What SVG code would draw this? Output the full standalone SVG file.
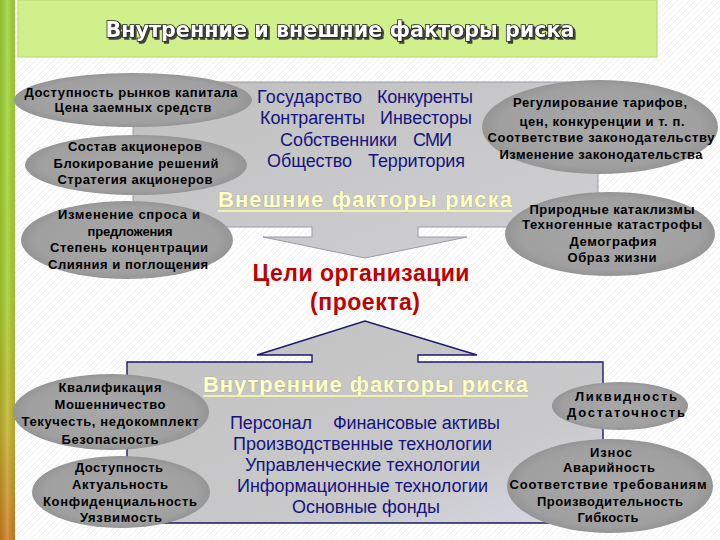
<svg xmlns="http://www.w3.org/2000/svg" width="720" height="540" viewBox="0 0 720 540">
<defs>
<pattern id="hatch" width="6" height="6" patternUnits="userSpaceOnUse">
<rect width="6" height="6" fill="#ffffff"/>
<path d="M-1,7 L7,-1" stroke="#ebebeb" stroke-width="0.8"/>
</pattern>
<linearGradient id="stripe" x1="0" y1="0" x2="0" y2="1">
<stop offset="0" stop-color="#9fd43a"/>
<stop offset="0.55" stop-color="#a6cf2e"/>
<stop offset="0.8" stop-color="#c4b22c"/>
<stop offset="1" stop-color="#cf7e22"/>
</linearGradient>
<linearGradient id="stripeH" x1="0" y1="0" x2="1" y2="0">
<stop offset="0" stop-color="#000" stop-opacity="0.12"/>
<stop offset="0.5" stop-color="#fff" stop-opacity="0.15"/>
<stop offset="1" stop-color="#000" stop-opacity="0.08"/>
</linearGradient>
<linearGradient id="boxg" x1="0" y1="0" x2="1" y2="1">
<stop offset="0" stop-color="#c0c0c0"/>
<stop offset="1" stop-color="#d0d0d4"/>
</linearGradient>
<linearGradient id="boxg2" x1="0" y1="0" x2="1" y2="1">
<stop offset="0" stop-color="#c2c2c2"/>
<stop offset="0.7" stop-color="#c9c9cb"/>
<stop offset="1" stop-color="#d8d8e6"/>
</linearGradient>
<radialGradient id="eg" cx="0.5" cy="0.5" r="0.5">
<stop offset="0" stop-color="#a8a8a8"/>
<stop offset="0.85" stop-color="#a0a0a0"/>
<stop offset="1" stop-color="#959595"/>
</radialGradient>
<filter id="shadow" x="-5%" y="-30%" width="110%" height="160%">
<feDropShadow dx="2" dy="2" stdDeviation="0.6" flood-color="#333333" flood-opacity="0.9"/>
</filter>
</defs>
<style>
.el{fill:url(#eg)}
.t{font-family:"Liberation Sans",Arial,sans-serif;font-weight:bold;font-size:13px;fill:#000;text-anchor:middle}
.bl{font-family:"Liberation Sans",Arial,sans-serif;font-size:18px;fill:#14147e}
.hd{font-family:"Liberation Sans",Arial,sans-serif;font-weight:bold;font-size:22px;fill:#ffffc8;stroke:#a8a888;stroke-width:0.7;paint-order:stroke}
.ul{stroke:#f0f0b0;stroke-width:1.8}
.red{font-family:"Liberation Sans",Arial,sans-serif;font-weight:bold;font-size:23px;fill:#c00000;text-anchor:middle}
</style>

<rect width="720" height="540" fill="url(#hatch)"/>
<rect x="0" y="0" width="15" height="540" fill="url(#stripe)"/>
<rect x="0" y="0" width="15" height="540" fill="url(#stripeH)"/>

<g id="title">
<rect x="18" y="0" width="639" height="57" fill="#cff08a" stroke="#b5d86a" stroke-width="1"/>
<text x="340" y="37" font-family="DejaVu Sans, sans-serif" font-weight="bold" font-size="21" text-anchor="middle" textLength="469" lengthAdjust="spacingAndGlyphs" fill="#ffffff" stroke="#222" stroke-width="1.6" paint-order="stroke" filter="url(#shadow)">Внутренние и внешние факторы риска</text>
</g>

<g id="connectors">
<path id="external-box" d="M133,82 H598 V227 H418 V237 H467 L365,258 L263,237 H312 V227 H133 Z" fill="url(#boxg)" stroke="#9a9aa8" stroke-width="1"/>
<path id="internal-box" d="M127,362 H312 V355 H257 L365,321 L477,355 H418 V362 H603 V523 H127 Z" fill="url(#boxg2)" stroke="#1a1a6e" stroke-width="1.4"/>
</g>

<g id="external">
<text class="bl" x="257" y="103" textLength="105">Государство</text>
<text class="bl" x="377" y="103" textLength="96">Конкуренты</text>
<text class="bl" x="260" y="124" textLength="105">Контрагенты</text>
<text class="bl" x="380" y="124" textLength="92">Инвесторы</text>
<text class="bl" x="280" y="146" textLength="117">Собственники</text>
<text class="bl" x="413" y="146" textLength="39">СМИ</text>
<text class="bl" x="267" y="167" textLength="85">Общество</text>
<text class="bl" x="368" y="167" textLength="97">Территория</text>
<text class="hd" x="218" y="207" textLength="294">Внешние факторы риска</text>
<line class="ul" x1="218" y1="211" x2="512" y2="211"/>
</g>

<g id="goal">
<text class="red" x="361" y="281" textLength="217">Цели организации</text>
<text class="red" x="365" y="310" textLength="110">(проекта)</text>
</g>

<g id="internal">
<text class="hd" x="203" y="392" textLength="325">Внутренние факторы риска</text>
<line class="ul" x1="203" y1="396" x2="528" y2="396"/>
<text class="bl" x="230" y="429" textLength="82">Персонал</text>
<text class="bl" x="333" y="429" textLength="167">Финансовые активы</text>
<text class="bl" x="362.5" y="450" text-anchor="middle" textLength="259">Производственные технологии</text>
<text class="bl" x="362.5" y="471" text-anchor="middle" textLength="235">Управленческие технологии</text>
<text class="bl" x="362.5" y="492" text-anchor="middle" textLength="251">Информационные технологии</text>
<text class="bl" x="366" y="513" text-anchor="middle" textLength="148">Основные фонды</text>
</g>

<g id="capital">
<ellipse class="el" cx="133" cy="100" rx="119" ry="27"/>
<text class="t" x="131" y="97" textLength="213">Доступность рынков капитала</text>
<text class="t" x="133" y="112" textLength="157">Цена заемных средств</text>
</g>

<g id="shareholders">
<ellipse class="el" cx="136" cy="165" rx="111" ry="30"/>
<text class="t" x="135" y="151" textLength="134">Состав акционеров</text>
<text class="t" x="136" y="168" textLength="165">Блокирование решений</text>
<text class="t" x="135" y="184" textLength="155">Стратегия акционеров</text>
</g>

<g id="market">
<ellipse class="el" cx="127" cy="240" rx="106" ry="39"/>
<text class="t" x="129" y="219" textLength="142">Изменение спроса и</text>
<text class="t" x="130" y="236" textLength="85">предложения</text>
<text class="t" x="129" y="252" textLength="158">Степень концентрации</text>
<text class="t" x="128" y="269" textLength="160">Слияния и поглощения</text>
</g>

<g id="regulation">
<ellipse class="el" cx="600" cy="127" rx="118" ry="47"/>
<text class="t" x="600" y="107" textLength="174">Регулирование тарифов,</text>
<text class="t" x="602" y="126" textLength="165">цен, конкуренции и т. п.</text>
<text class="t" x="601" y="142" textLength="227">Соответствие законодательству</text>
<text class="t" x="601" y="159" textLength="203">Изменение законодательства</text>
</g>

<g id="nature">
<ellipse class="el" cx="610" cy="234" rx="105" ry="42"/>
<text class="t" x="612" y="214" textLength="165">Природные катаклизмы</text>
<text class="t" x="612" y="229" textLength="180">Техногенные катастрофы</text>
<text class="t" x="613" y="246" textLength="87">Демография</text>
<text class="t" x="612" y="262" textLength="89">Образ жизни</text>
</g>

<g id="personnel">
<ellipse class="el" cx="111" cy="412" rx="98" ry="38"/>
<text class="t" x="110" y="392" textLength="103">Квалификация</text>
<text class="t" x="110" y="409" textLength="111">Мошенничество</text>
<text class="t" x="110" y="426" textLength="177">Текучесть, недокомплект</text>
<text class="t" x="110" y="444" textLength="97">Безопасность</text>
</g>

<g id="information">
<ellipse class="el" cx="121" cy="492" rx="89" ry="36"/>
<text class="t" x="119" y="472" textLength="88">Доступность</text>
<text class="t" x="120" y="489" textLength="96">Актуальность</text>
<text class="t" x="120" y="506" textLength="154">Конфиденциальность</text>
<text class="t" x="121" y="522" textLength="82">Уязвимость</text>
</g>

<g id="finance">
<ellipse class="el" cx="620" cy="406" rx="68" ry="24"/>
<text class="t" x="626" y="401" textLength="102">Ликвидность</text>
<text class="t" x="626" y="417" textLength="118">Достаточность</text>
</g>

<g id="assets">
<ellipse class="el" cx="610" cy="486" rx="103" ry="47"/>
<text class="t" x="611" y="457" textLength="42">Износ</text>
<text class="t" x="609" y="472" textLength="92">Аварийность</text>
<text class="t" x="608" y="489" textLength="197">Соответствие требованиям</text>
<text class="t" x="610" y="506" textLength="146">Производительность</text>
<text class="t" x="608" y="522" textLength="61">Гибкость</text>
</g>
</svg>
